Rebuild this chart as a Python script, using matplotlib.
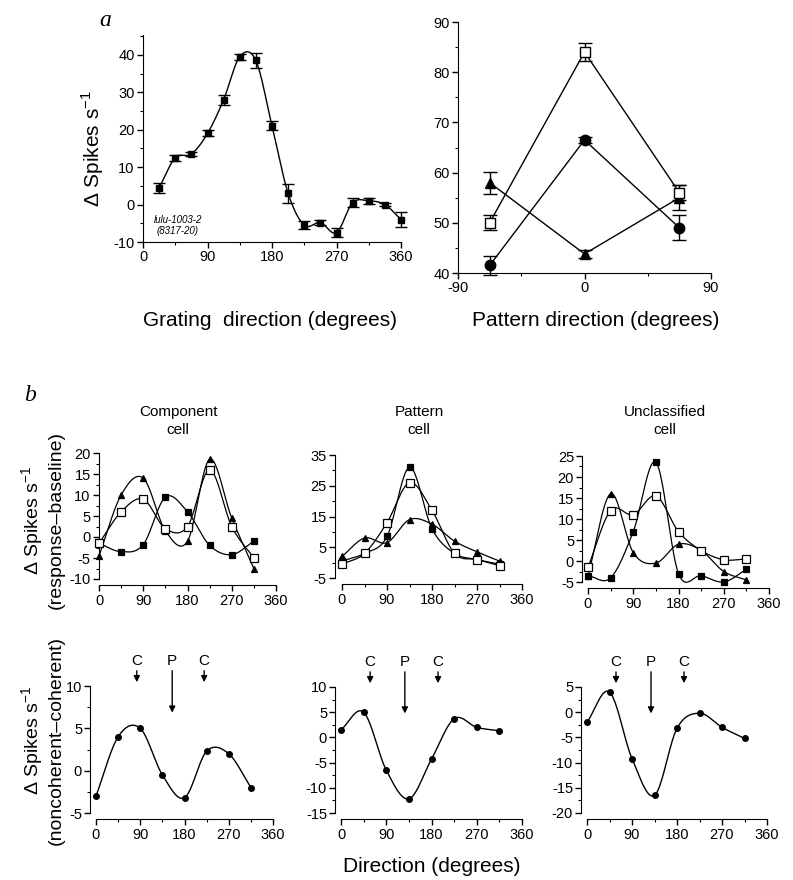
import numpy as np
import matplotlib
matplotlib.use("Agg")
import matplotlib.pyplot as plt
from matplotlib.ticker import MultipleLocator

plt.rcParams['font.family'] = ['Liberation Sans', 'DejaVu Sans']
plt.rcParams['axes.unicode_minus'] = False
plt.rcParams['mathtext.fontset'] = 'custom'
plt.rcParams['mathtext.rm'] = 'Liberation Sans'
plt.rcParams['xtick.labelsize'] = 10.5
plt.rcParams['ytick.labelsize'] = 10.5

# ---- panel a, left: grating tuning ----
grating_dir = [22.5, 45, 67.5, 90, 112.5, 135, 157.5, 180, 202.5, 225, 247.5, 270, 292.5, 315, 337.5, 360]
grating_resp = [4.5, 12.5, 13.5, 19, 28, 39.5, 38.5, 21, 3, -5.5, -4.8, -7.5, 0.5, 1, 0, -4]
grating_err = [1.3, 0.8, 0.5, 0.8, 1.3, 0.8, 2.0, 1.2, 2.5, 1.0, 0.6, 1.2, 1.2, 0.8, 0.3, 2.0]

# ---- panel a, right: pattern tuning ----
pattern_dir = [-67.5, 0, 67.5]
pat_open = [50, 84, 56]
pat_open_err = [1.5, 1.8, 1.5]
pat_circle = [41.5, 66.5, 49]
pat_circle_err = [1.8, 0.6, 2.5]
pat_tri = [58, 43.8, 55]
pat_tri_err = [2.2, 0.8, 2.5]

# ---- panel b ----
b_dir = [0, 45, 90, 135, 180, 225, 270, 315]
comp_tri = [-4.5, 10, 14, 1.5, -1, 18.5, 4.5, -7.5]
comp_open = [-1.5, 6, 9, 2, 2.5, 16, 2.5, -5]
comp_fill = [-1.5, -3.5, -1.8, 9.5, 6, -2, -4.2, -1]

patt_tri = [2, 8, 6.5, 14, 12.5, 7, 3.5, 0.5]
patt_open = [-0.5, 3, 13, 26, 17, 3, 1, -1]
patt_fill = [0.5, 3, 8.5, 31, 11, 3, 1, -0.5]

uncl_tri = [-3.5, 16, 2, -0.5, 4, 2.5, -2.5, -4.5]
uncl_open = [-1.5, 12, 11, 15.5, 7, 2.5, 0.3, 0.5]
uncl_fill = [-3.5, -4, 7, 23.5, -3, -3.5, -5, -2]

diff_comp = [-3, 4, 5, -0.5, -3.2, 2.3, 2, -2]
diff_patt = [1.5, 5, -6.5, -12.2, -4.3, 3.7, 2, 1.3]
diff_uncl = [-2, 4, -9.2, -16.5, -3.2, -0.2, -3, -5.2]

arrows_comp = [83, 155, 220]
arrows_patt = [58, 127, 193]
arrows_uncl = [58, 128, 194]
arrow_labels = ['C', 'P', 'C']

W, H = 793, 880


def rect(x0, x1, ytop, ybot):
    # pixel box -> figure fraction
    return [x0 / W, 1 - ybot / H, (x1 - x0) / W, (ybot - ytop) / H]


def smooth(x, y, n=24):
    # cubic Hermite (Catmull-Rom) curve through the points
    x = np.asarray(x, float)
    y = np.asarray(y, float)
    m = np.gradient(y, x)
    xs, ys = [], []
    t = np.linspace(0, 1, n, endpoint=False)
    for i in range(len(x) - 1):
        h = x[i + 1] - x[i]
        h00 = 2 * t**3 - 3 * t**2 + 1
        h10 = t**3 - 2 * t**2 + t
        h01 = -2 * t**3 + 3 * t**2
        h11 = t**3 - t**2
        xs.append(x[i] + t * h)
        ys.append(h00 * y[i] + h10 * h * m[i] + h01 * y[i + 1] + h11 * h * m[i + 1])
    xs.append([x[-1]])
    ys.append([y[-1]])
    return np.concatenate(xs), np.concatenate(ys)


def style(ax, left_off=0, bottom_off=0):
    for s in ['top', 'right']:
        ax.spines[s].set_visible(False)
    ax.spines['left'].set_position(('outward', left_off))
    ax.spines['bottom'].set_position(('outward', bottom_off))
    ax.tick_params(which='major', length=4, width=1, direction='out', pad=2)
    ax.tick_params(which='minor', length=2, width=0.8, direction='out')
    ax.patch.set_alpha(0)


fig = plt.figure(figsize=(W / 100, H / 100), dpi=100)

# ---------- a left ----------
ax = fig.add_axes(rect(143, 401, 35, 242))
style(ax)
gx, gy = smooth(grating_dir, grating_resp)
ax.plot(gx, gy, color='k', lw=1)
ax.errorbar(grating_dir, grating_resp, yerr=grating_err, fmt='s', color='k', ms=4.5,
            capsize=4, elinewidth=1, capthick=1, clip_on=False)
ax.set_xlim(0, 360)
ax.set_ylim(-10, 45.3)
ax.set_xticks([0, 90, 180, 270, 360])
ax.set_yticks([-10, 0, 10, 20, 30, 40])
ax.xaxis.set_minor_locator(MultipleLocator(45))
ax.yaxis.set_minor_locator(MultipleLocator(5))
ax.text(0.135, 0.03, 'lulu-1003-2\n(8317-20)', transform=ax.transAxes, fontsize=7,
        style='italic', ha='center', va='bottom', linespacing=1.1)

# ---------- a right ----------
ax = fig.add_axes(rect(458, 711, 22, 273))
style(ax)
ax.errorbar(pattern_dir, pat_circle, yerr=pat_circle_err, fmt='-o', color='k', ms=7.5,
            lw=1, capsize=5, capthick=1, clip_on=False)
ax.errorbar(pattern_dir, pat_tri, yerr=pat_tri_err, fmt='-^', color='k', ms=7.5,
            lw=1, capsize=5, capthick=1, clip_on=False)
ax.errorbar(pattern_dir, pat_open, yerr=pat_open_err, fmt='-s', color='k', mfc='white',
            ms=7.5, lw=1, capsize=5, capthick=1, clip_on=False)
ax.set_xlim(-90, 90)
ax.set_ylim(40, 90)
ax.set_xticks([-90, 0, 90])
ax.set_yticks([40, 50, 60, 70, 80, 90])
ax.xaxis.set_minor_locator(MultipleLocator(45))
ax.yaxis.set_minor_locator(MultipleLocator(5))

# ---------- b, top row ----------
top_specs = [
    (rect(99, 276, 453, 579), (-10, 20), list(range(-10, 21, 5)), 2.5, 0,
     (comp_tri, comp_open, comp_fill)),
    (rect(342, 522, 455, 578), (-5, 35), [-5, 5, 15, 25, 35], 5, 5,
     (patt_tri, patt_open, patt_fill)),
    (rect(588, 769, 456, 582), (-5, 25), list(range(-5, 26, 5)), 2.5, 4,
     (uncl_tri, uncl_open, uncl_fill)),
]
for pos, ylim, yt, ymin, loff, (tri, opn, fil) in top_specs:
    ax = fig.add_axes(pos)
    style(ax, left_off=loff, bottom_off=4.5)
    for vals, mk, mfc, ms in [(fil, 's', 'k', 3.8), (tri, '^', 'k', 4.5), (opn, 's', 'white', 6)]:
        sx, sy = smooth(b_dir, vals)
        ax.plot(sx, sy, color='k', lw=0.9, clip_on=False)
        ax.plot(b_dir, vals, ls='none', marker=mk, mfc=mfc, mec='k', mew=0.9, ms=ms,
                clip_on=False, zorder=3)
    ax.set_xlim(0, 360)
    ax.set_ylim(*ylim)
    ax.set_xticks([0, 90, 180, 270, 360])
    ax.set_yticks(yt)
    ax.xaxis.set_minor_locator(MultipleLocator(45))
    ax.yaxis.set_minor_locator(MultipleLocator(ymin))

# ---------- b, bottom row ----------
bot_specs = [
    (rect(96, 273, 686, 813), (-5, 10), [-5, 0, 5, 10], 4, diff_comp, arrows_comp),
    (rect(341, 522, 687, 813), (-15, 10), list(range(-15, 11, 5)), 4, diff_patt, arrows_patt),
    (rect(587, 767, 687, 813), (-20, 5), list(range(-20, 6, 5)), 4, diff_uncl, arrows_uncl),
]
for pos, ylim, yt, loff, vals, arr in bot_specs:
    ax = fig.add_axes(pos)
    style(ax, left_off=loff, bottom_off=4.5)
    sx, sy = smooth(b_dir, vals)
    ax.plot(sx, sy, color='k', lw=1, clip_on=False)
    ax.plot(b_dir, vals, ls='none', marker='o', color='k', ms=4, clip_on=False, zorder=3)
    ax.set_xlim(0, 360)
    ax.set_ylim(*ylim)
    ax.set_xticks([0, 90, 180, 270, 360])
    ax.set_yticks(yt)
    ax.xaxis.set_minor_locator(MultipleLocator(45))
    ax.yaxis.set_minor_locator(MultipleLocator(2.5))
    trans = ax.get_xaxis_transform()
    for xa, lab in zip(arr, arrow_labels):
        tip = 0.79 if lab == 'P' else 1.03
        ax.annotate('', xy=(xa, tip), xytext=(xa, 1.12), xycoords=trans, textcoords=trans,
                    arrowprops=dict(arrowstyle='-|>', color='k', lw=1, mutation_scale=9,
                                    shrinkA=0, shrinkB=0), annotation_clip=False)
        ax.text(xa, 1.2, lab, transform=trans, ha='center', va='center', fontsize=11)

# ---------- labels ----------
def ftext(x, y, s, **kw):
    fig.text(x / W, 1 - y / H, s, **kw)

ftext(105, 20, 'a', family='Liberation Serif', style='italic', fontsize=17, ha='center', va='center')
ftext(30, 395, 'b', family='Liberation Serif', style='italic', fontsize=17, ha='center', va='center')
ftext(93, 149, r'$\Delta$ Spikes s$^{-1}$', fontsize=15, rotation=90, ha='center', va='center')
ftext(270, 320, 'Grating  direction (degrees)', fontsize=15, ha='center', va='center')
ftext(596, 320, 'Pattern direction (degrees)', fontsize=15, ha='center', va='center')
ftext(178, 421, 'Component\ncell', fontsize=11, ha='center', va='center', linespacing=1.3)
ftext(419, 421, 'Pattern\ncell', fontsize=11, ha='center', va='center', linespacing=1.3)
ftext(665, 421, 'Unclassified\ncell', fontsize=11, ha='center', va='center', linespacing=1.3)
ftext(42, 520, 'Δ Spikes s$^{-1}$\n(response–baseline)', fontsize=14, rotation=90,
      ha='center', va='center', multialignment='center', linespacing=1.15)
ftext(42, 740, 'Δ Spikes s$^{-1}$\n(noncoherent–coherent)', fontsize=14, rotation=90,
      ha='center', va='center', multialignment='center', linespacing=1.15)
ftext(432, 866, 'Direction (degrees)', fontsize=15, ha='center', va='center')

fig.savefig('out.png', dpi=100)
